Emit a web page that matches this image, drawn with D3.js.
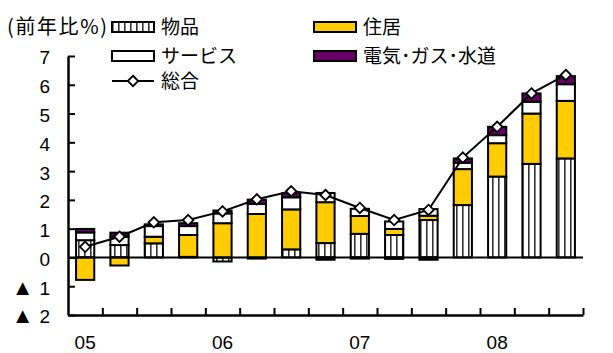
<!DOCTYPE html>
<html>
<head>
<meta charset="utf-8">
<script src="https://cdn.jsdelivr.net/npm/d3@7"></script>
<style>
  body { margin: 0; background: #fff; }
  svg { display: block; }
  .jp { font-family: "Noto Sans CJK JP", "Noto Sans", sans-serif; }
  .num { font-family: "Liberation Sans Narrow", "Liberation Sans", Arial, sans-serif; }
</style>
</head>
<body>
<script>
// quarterly data, 2005Q1 - 2008Q3
var quarters = ["05Q1","05Q2","05Q3","05Q4","06Q1","06Q2","06Q3","06Q4",
                "07Q1","07Q2","07Q3","07Q4","08Q1","08Q2","08Q3"];
var goods     = [0.60, 0.43, 0.49, 0.02, -0.14, -0.04, 0.28, 0.50, 0.82, 0.78, 1.30, 1.82, 2.81, 3.25, 3.44];
var housing   = [-0.78, -0.28, 0.23, 0.76, 1.19, 1.51, 1.39, 1.42, 0.62, 0.21, 0.15, 1.25, 1.16, 1.75, 2.00];
var services  = [0.27, 0.29, 0.37, 0.31, 0.34, 0.35, 0.42, 0.32, 0.25, 0.26, 0.23, 0.22, 0.28, 0.41, 0.58];
var utilities = [0.12, 0.14, 0.06, 0.10, 0.10, 0.15, 0.14, -0.08, -0.04, -0.05, -0.08, 0.15, 0.29, 0.29, 0.28];
var total     = [0.37, 0.72, 1.22, 1.30, 1.60, 2.02, 2.30, 2.17, 1.72, 1.30, 1.65, 3.47, 4.54, 5.70, 6.34];

var yTicks = [-2, -1, 0, 1, 2, 3, 4, 5, 6, 7];
var yTickLabels = ["▲ 2", "▲ 1", "0", "1", "2", "3", "4", "5", "6", "7"];
var yearLabels = [{q: "05Q1", text: "05"}, {q: "06Q1", text: "06"}, {q: "07Q1", text: "07"}, {q: "08Q1", text: "08"}];

var seriesKeys = ["goods", "housing", "services", "utilities"];
var seriesNames = {goods: "物品", housing: "住居", services: "サービス", utilities: "電気･ガス･水道"};
var seriesFill = {goods: "url(#hatch)", housing: "#FFCC00", services: "#FFFFFF", utilities: "#660066"};

var width = 613, height = 353;
var plot = { left: 68, right: 583, top: 56, bottom: 315 };

var svg = d3.select("body").append("svg")
    .attr("width", width)
    .attr("height", height);

// vertical stripes for goods
var pat = svg.append("defs").append("pattern")
    .attr("id", "hatch")
    .attr("patternUnits", "userSpaceOnUse")
    .attr("width", 6).attr("height", 6);
pat.append("rect").attr("width", 6).attr("height", 6).attr("fill", "#fff");
pat.append("rect").attr("x", 0).attr("width", 1.6).attr("height", 6).attr("fill", "#333");

var rows = quarters.map(function(q, i) {
    return { q: q, goods: goods[i], housing: housing[i], services: services[i], utilities: utilities[i] };
});

var x = d3.scaleBand()
    .domain(quarters)
    .range([plot.left, plot.right])
    .paddingInner(0.47)
    .paddingOuter(0.235);

var xEdge = d3.scaleLinear().domain([0, quarters.length]).range([plot.left, plot.right]);

var y = d3.scaleLinear().domain([-2, 7]).range([plot.bottom, plot.top]);

var stack = d3.stack().keys(seriesKeys).offset(d3.stackOffsetDiverging);
var stacked = stack(rows);

// bars
var layer = svg.selectAll(".layer")
    .data(stacked)
    .enter().append("g")
    .attr("class", "layer")
    .attr("fill", function(d) { return seriesFill[d.key]; });

layer.selectAll("rect")
    .data(function(d) { return d; })
    .enter().append("rect")
    .attr("x", function(d) { return x(d.data.q); })
    .attr("width", x.bandwidth())
    .attr("y", function(d) { return y(Math.max(d[0], d[1])); })
    .attr("height", function(d) { return Math.abs(y(d[0]) - y(d[1])); })
    .attr("stroke", "#000")
    .attr("stroke-width", 2);

// zero line
svg.append("line")
    .attr("x1", plot.left).attr("x2", plot.right)
    .attr("y1", y(0)).attr("y2", y(0))
    .attr("stroke", "#000").attr("stroke-width", 2);

// y axis, ticks pointing in
var yAxis = svg.append("g")
    .attr("transform", "translate(" + plot.left + ",0)")
    .call(d3.axisLeft(y)
        .tickValues(yTicks)
        .tickSizeInner(-7)
        .tickSizeOuter(0)
        .tickPadding(18)
        .tickFormat(""));
yAxis.select(".domain").attr("stroke-width", 2.5);
yAxis.selectAll(".tick line").attr("stroke-width", 2);

// tick labels, with a larger triangle for negatives
yAxis.selectAll(".tick text").each(function(d, i) {
    var t = d3.select(this)
        .attr("class", "num")
        .attr("font-size", 19)
        .attr("dy", "0.42em")
        .attr("fill", "#000");
    var lab = yTickLabels[i];
    if (lab.charAt(0) === "▲") {
        t.append("tspan").attr("font-size", 22).text("▲");
        t.append("tspan").attr("dx", 6).text(lab.slice(1).trim());
    } else {
        t.text(lab);
    }
});

// x axis at bottom, ticks on quarter boundaries
var xAxis = svg.append("g")
    .attr("transform", "translate(0," + plot.bottom + ")")
    .call(d3.axisBottom(xEdge)
        .tickValues(d3.range(1, quarters.length + 1))
        .tickSizeInner(-7)
        .tickSizeOuter(0)
        .tickFormat(""));
xAxis.select(".domain").attr("stroke-width", 2.5);
xAxis.selectAll(".tick line").attr("stroke-width", 2);

svg.selectAll(".year")
    .data(yearLabels)
    .enter().append("text")
    .attr("class", "num")
    .attr("x", function(d) { return x(d.q) + x.bandwidth() / 2; })
    .attr("y", 349)
    .attr("text-anchor", "middle")
    .attr("font-size", 19)
    .text(function(d) { return d.text; });

// total line with diamonds
var line = d3.line()
    .x(function(d, i) { return x(quarters[i]) + x.bandwidth() / 2; })
    .y(function(d) { return y(d); });

svg.append("path")
    .datum(total)
    .attr("d", line)
    .attr("fill", "none")
    .attr("stroke", "#000")
    .attr("stroke-width", 2);

var diamond = d3.symbol().type(d3.symbolDiamond2).size(70);
svg.selectAll(".mark")
    .data(total)
    .enter().append("path")
    .attr("class", "mark")
    .attr("d", diamond)
    .attr("transform", function(d, i) {
        return "translate(" + (x(quarters[i]) + x.bandwidth() / 2) + "," + y(d) + ")";
    })
    .attr("fill", "#fff")
    .attr("stroke", "#000")
    .attr("stroke-width", 1.8);

// unit label
svg.append("text")
    .attr("class", "jp")
    .attr("x", 7).attr("y", 34)
    .attr("font-size", 20)
    .attr("textLength", 100)
    .text("(前年比%)");

// legend
var legendItems = [
    { key: "goods", x: 112, y: 22 },
    { key: "housing", x: 314, y: 22 },
    { key: "services", x: 112, y: 51 },
    { key: "utilities", x: 314, y: 51 }
];

var leg = svg.selectAll(".leg")
    .data(legendItems)
    .enter().append("g")
    .attr("class", "leg")
    .attr("transform", function(d) { return "translate(" + d.x + "," + d.y + ")"; });

leg.append("rect")
    .attr("width", 42).attr("height", 10)
    .attr("fill", function(d) { return seriesFill[d.key]; })
    .attr("stroke", "#000").attr("stroke-width", 2);

leg.append("text")
    .attr("class", "jp")
    .attr("x", 49).attr("y", 12)
    .attr("font-size", 19)
    .text(function(d) { return seriesNames[d.key]; });

var legLine = svg.append("g").attr("transform", "translate(112,81)");
legLine.append("line")
    .attr("x1", 0).attr("x2", 42)
    .attr("stroke", "#000").attr("stroke-width", 2);
legLine.append("path")
    .attr("d", diamond)
    .attr("transform", "translate(21,0)")
    .attr("fill", "#fff").attr("stroke", "#000").attr("stroke-width", 1.8);
legLine.append("text")
    .attr("class", "jp")
    .attr("x", 49).attr("y", 7)
    .attr("font-size", 19)
    .text("総合");
</script>
</body>
</html>
